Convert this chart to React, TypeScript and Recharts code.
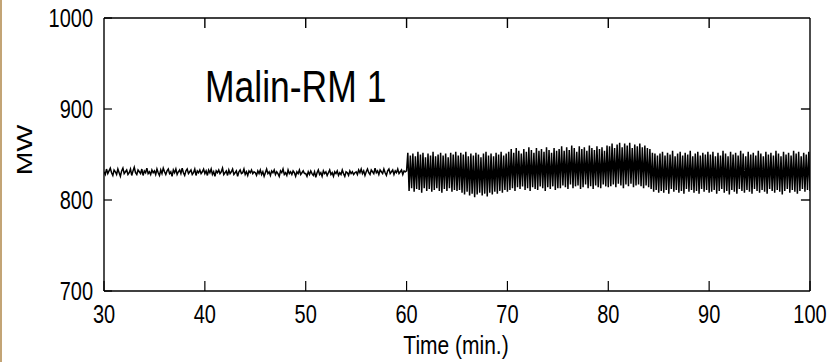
import { LineChart, Line, XAxis, YAxis, ReferenceLine } from "recharts";

// time axis (min.)
const FLAT_START = 30;
const OSC_START = 60;
const STEP = 0.125;

const xTicks = [30, 40, 50, 60, 70, 80, 90, 100];
const yTicks = [700, 800, 900, 1000];
const X_MIN = 30;
const X_MAX = 100;
const Y_MIN = 700;
const Y_MAX = 1000;

// 30 - 60 min: steady around 830 MW, one list per 5 minutes
const flat30 = [
  831, 828, 834, 829, 832, 835, 830, 827, 833, 831, 828, 834, 830, 826, 832, 835, 829, 831, 833, 828,
  830, 834, 827, 832, 836, 830, 828, 833, 831, 829, 834, 827, 832, 830, 835, 829, 831, 828, 833, 830,
];
const flat35 = [
  832, 828, 834, 830, 827, 833, 829, 835, 831, 828, 832, 834, 829, 831, 826, 833, 830, 834, 828, 831,
  833, 829, 835, 830, 827, 832, 834, 829, 831, 833, 828, 830, 834, 827, 832, 830, 833, 829, 831, 834,
];
const flat40 = [
  829, 832, 827, 833, 830, 834, 828, 831, 826, 832, 830, 833, 829, 831, 835, 828, 830, 832, 827, 833,
  829, 831, 834, 828, 830, 832, 826, 831, 833, 829, 830, 834, 828, 831, 827, 832, 830, 833, 829, 831,
];
const flat45 = [
  830, 827, 832, 829, 833, 828, 831, 826, 830, 834, 829, 831, 827, 832, 830, 833, 828, 831, 829, 826,
  832, 830, 834, 828, 830, 827, 833, 829, 831, 828, 832, 830, 826, 831, 829, 833, 828, 830, 832, 829,
];
const flat50 = [
  829, 826, 831, 828, 832, 829, 827, 831, 825, 830, 833, 828, 830, 826, 832, 829, 831, 827, 830, 833,
  828, 830, 826, 831, 829, 832, 827, 830, 828, 833, 829, 826, 831, 830, 827, 832, 829, 831, 828, 830,
];
const flat55 = [
  831, 828, 833, 830, 834, 829, 832, 827, 831, 834, 830, 828, 833, 831, 829, 835, 830, 832, 828, 833,
  831, 829, 834, 830, 827, 832, 834, 829, 831, 833, 828, 832, 830, 834, 829, 831, 833, 828, 832, 831,
  832,
];

// 60 - 100 min: oscillation, one list per 5 minutes
const osc60 = [
  852, 810, 849, 813, 851, 809, 848, 812, 853, 811, 850, 808, 852, 813, 847, 810, 851, 812, 849, 809,
  853, 811, 848, 813, 850, 810, 852, 808, 849, 812, 851, 810, 847, 813, 852, 809, 850, 811, 853, 810,
];
const osc65 = [
  849, 811, 852, 808, 850, 806, 853, 809, 848, 805, 851, 807, 849, 803, 852, 806, 850, 808, 847, 805,
  851, 807, 853, 804, 849, 808, 851, 806, 848, 809, 852, 807, 850, 810, 853, 808, 849, 811, 851, 809,
];
const osc70 = [
  853, 811, 856, 813, 852, 810, 857, 814, 854, 812, 851, 815, 856, 811, 853, 813, 858, 810, 855, 814,
  852, 812, 857, 811, 854, 815, 856, 813, 853, 810, 858, 814, 855, 812, 852, 815, 857, 811, 854, 813,
];
const osc75 = [
  856, 813, 859, 816, 854, 814, 858, 812, 855, 817, 860, 813, 857, 815, 853, 816, 859, 812, 856, 814,
  858, 817, 854, 813, 860, 815, 857, 812, 855, 816, 859, 814, 856, 813, 858, 817, 854, 815, 860, 814,
];
const osc80 = [
  859, 815, 862, 817, 857, 814, 861, 818, 863, 816, 858, 813, 862, 817, 860, 815, 863, 818, 857, 814,
  861, 816, 859, 817, 862, 815, 858, 813, 860, 816, 857, 814, 856, 812, 852, 809, 851, 811, 849, 808,
];
const osc85 = [
  851, 810, 853, 808, 849, 811, 852, 807, 850, 812, 854, 809, 848, 811, 851, 808, 853, 810, 849, 807,
  852, 812, 850, 809, 854, 811, 848, 808, 851, 810, 853, 807, 849, 812, 852, 809, 850, 811, 853, 808,
];
const osc90 = [
  850, 809, 853, 811, 848, 807, 852, 810, 849, 812, 854, 808, 851, 810, 848, 806, 853, 811, 850, 809,
  852, 807, 849, 812, 854, 810, 851, 808, 848, 811, 853, 809, 850, 807, 852, 812, 849, 810, 854, 808,
];
const osc95 = [
  851, 811, 848, 809, 853, 807, 850, 812, 852, 810, 849, 808, 854, 811, 851, 809, 848, 806, 853, 810,
  850, 812, 852, 808, 849, 811, 854, 809, 851, 807, 853, 810, 848, 812, 852, 809, 850, 811, 853, 810,
];

const flatValues = [...flat30, ...flat35, ...flat40, ...flat45, ...flat50, ...flat55];
const oscValues = [...osc60, ...osc65, ...osc70, ...osc75, ...osc80, ...osc85, ...osc90, ...osc95];

const data = [
  ...flatValues.map((v, i) => ({ t: FLAT_START + i * STEP, mw: v })),
  ...oscValues.map((v, i) => ({ t: OSC_START + (i + 1) * STEP, mw: v })),
];

const W = 830;
const H = 362;

// mirrored inner ticks on the top and right frame edges, in data units
// (about 10 px tall on top, 9 px long on the right)
const TOP_TICK_LEN = 11;
const RIGHT_TICK_LEN = 0.9;

const FONT = '"Liberation Sans", Arial, sans-serif';
// the original figure is stretched vertically
const STRETCH = 1.26;

function XTick({ x, y, payload }: any) {
  return (
    <g transform={`translate(${x},${y}) scale(1,${STRETCH})`}>
      <text x={0} y={0} textAnchor="middle" fontFamily={FONT} fontSize={20} fill="#000">
        {payload.value}
      </text>
    </g>
  );
}

function YTick({ x, y, payload }: any) {
  return (
    <g transform={`translate(${x},${y + 9}) scale(1,${STRETCH})`}>
      <text x={0} y={0} textAnchor="end" fontFamily={FONT} fontSize={20} fill="#000">
        {payload.value}
      </text>
    </g>
  );
}

const axisLine = { stroke: "#000", strokeWidth: 1.4 };
const tickLine = { stroke: "#000", strokeWidth: 1.2 };

export default function App() {
  return (
    <div style={{ position: "absolute", left: 0, top: 0, width: W, height: H, background: "#fff" }}>
      <div style={{ position: "absolute", left: 0, top: 0, width: 2, height: H, background: "#c3a475" }} />
      <LineChart width={W} height={H} data={data} margin={{ top: 0, right: 0, left: 0, bottom: 0 }}>
        <XAxis
          xAxisId="x"
          dataKey="t"
          type="number"
          domain={[X_MIN, X_MAX]}
          ticks={xTicks}
          allowDataOverflow
          height={71}
          tickSize={-10}
          tickMargin={42}
          axisLine={axisLine}
          tickLine={tickLine}
          tick={<XTick />}
          interval={0}
        />
        <XAxis
          xAxisId="xt"
          dataKey="t"
          orientation="top"
          type="number"
          domain={[X_MIN, X_MAX]}
          allowDataOverflow
          height={18}
          axisLine={axisLine}
          tickLine={false}
          tick={false}
        />
        <YAxis
          yAxisId="y"
          type="number"
          domain={[Y_MIN, Y_MAX]}
          ticks={yTicks}
          allowDataOverflow
          width={104}
          tickSize={-8}
          tickMargin={19}
          axisLine={axisLine}
          tickLine={tickLine}
          tick={<YTick />}
          interval={0}
        />
        <YAxis
          yAxisId="yr"
          orientation="right"
          type="number"
          domain={[Y_MIN, Y_MAX]}
          allowDataOverflow
          width={20}
          axisLine={axisLine}
          tickLine={false}
          tick={false}
        />
        <Line
          xAxisId="x"
          yAxisId="y"
          type="linear"
          dataKey="mw"
          stroke="#000"
          strokeWidth={1.5}
          dot={false}
          isAnimationActive={false}
        />
        {xTicks.slice(1, -1).map((t) => (
          <ReferenceLine
            key={`tt${t}`}
            xAxisId="x"
            yAxisId="y"
            ifOverflow="visible"
            segment={[
              { x: t, y: Y_MAX },
              { x: t, y: Y_MAX - TOP_TICK_LEN },
            ]}
            stroke="#000"
            strokeWidth={1.4}
          />
        ))}
        {yTicks.slice(1, -1).map((v) => (
          <ReferenceLine
            key={`rt${v}`}
            xAxisId="x"
            yAxisId="y"
            ifOverflow="visible"
            segment={[
              { x: X_MAX - RIGHT_TICK_LEN, y: v },
              { x: X_MAX, y: v },
            ]}
            stroke="#000"
            strokeWidth={1.4}
          />
        ))}
      </LineChart>
      <svg width={W} height={H} style={{ position: "absolute", left: 0, top: 0, pointerEvents: "none" }}>
        <g transform={`translate(205,102) scale(1,${STRETCH})`}>
          <text x={0} y={0} fontFamily={FONT} fontSize={35.5} fill="#000">
            Malin-RM 1
          </text>
        </g>
        <g transform={`translate(456,354) scale(1,${STRETCH})`}>
          <text x={0} y={0} textAnchor="middle" fontFamily={FONT} fontSize={21} fill="#000">
            Time (min.)
          </text>
        </g>
        <g transform={`translate(32,150) rotate(-90) scale(${STRETCH},1)`}>
          <text x={0} y={0} textAnchor="middle" fontFamily={FONT} fontSize={22.5} fill="#000">
            MW
          </text>
        </g>
      </svg>
    </div>
  );
}
